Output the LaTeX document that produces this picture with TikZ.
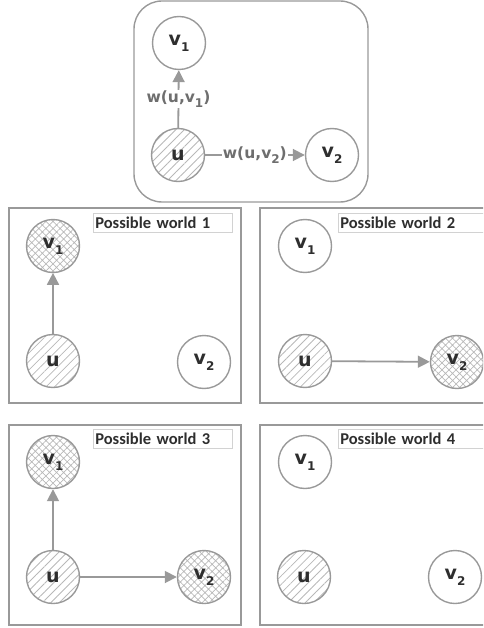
\documentclass[tikz,border=0pt]{standalone}
\usepackage{fontspec}
\setmainfont{DejaVu Sans}
\newfontfamily\pwfont{Carlito}
\usetikzlibrary{patterns.meta,arrows.meta}
\definecolor{lg}{HTML}{999999}
\definecolor{tx}{HTML}{2E2E2E}
\definecolor{hat}{HTML}{B8B8B8}
\definecolor{el}{HTML}{6E6E6E}
\newcommand{\vsub}[1]{v\raisebox{-0.55ex}{\fontsize{12}{12}\selectfont #1}}
\tikzset{
  x=1pt, y=-1pt,
  vertex/.style={circle, draw=lg, line width=1.4pt, minimum size=53pt, inner sep=0pt,
    font=\fontsize{19}{19}\selectfont\bfseries, text=tx},
  src/.style={vertex, pattern={Lines[angle=45,distance=6pt,line width=0.8pt]}, pattern color=hat},
  hit/.style={vertex, pattern={Hatch[angle=45,distance=5pt,line width=0.7pt]}, pattern color=hat},
  edge/.style={draw=lg, line width=1.8pt, -{Triangle[length=12pt,width=12pt]}},
  world/.style={draw=lg, line width=1.4pt},
  tag/.style={draw=gray!35, line width=0.7pt, anchor=north west, minimum height=19pt,
    inner xsep=2pt, inner ysep=0pt, text=tx, align=left,
    font=\pwfont\fontsize{16.5}{16.5}\selectfont\bfseries},
  elabel/.style={fill=white, text=el, font=\fontsize{15.5}{15.5}\selectfont\bfseries, inner sep=1pt}
}
\begin{document}
\begin{tikzpicture}
\useasboundingbox (0,0) rectangle (483,628);
\clip (0,0) rectangle (483,628);

% top box
\draw[world, rounded corners=28pt] (134,1) rectangle (368,202);
\node[vertex] (tv1) at (179,43) {\vsub{1}};
\node[src] (tu) at (178,155) {u};
\node[vertex] (tv2) at (332,155) {\vsub{2}};
\draw[edge] (tu) -- node[elabel] {w(u,\vsub{1})} (tv1);
\draw[edge] (tu) -- node[elabel] {w(u,\vsub{2})} (tv2);

% world 1
\draw[world] (9,208) rectangle (241,403);
\node[tag, text width=135pt] (t1) at (93,213) {Possible world 1};
\node[hit] (a1) at (53,246) {\vsub{1}};
\node[src] (au) at (53,361) {u};
\node[vertex] (a2) at (204,362) {\vsub{2}};
\draw[edge] (au) -- (a1);

% world 2
\draw[world] (260,208) rectangle (495,403);
\node[tag, text width=150pt] (t2) at (338,213) {Possible world 2};
\node[vertex] (b1) at (305,246) {\vsub{1}};
\node[src] (bu) at (305,361) {u};
\node[hit] (b2) at (457,362) {\vsub{2}};
\draw[edge] (bu) -- (b2);

% world 3
\draw[world] (9,425) rectangle (241,625);
\node[tag, text width=135pt] (t3) at (93,429) {Possible world 3};
\node[hit] (c1) at (53,462) {\vsub{1}};
\node[src] (cu) at (53,577) {u};
\node[hit] (c2) at (204,577) {\vsub{2}};
\draw[edge] (cu) -- (c1);
\draw[edge] (cu) -- (c2);

% world 4
\draw[world] (260,425) rectangle (495,625);
\node[tag, text width=150pt] (t4) at (338,429) {Possible world 4};
\node[vertex] (d1) at (305,462) {\vsub{1}};
\node[src] (du) at (304,577) {u};
\node[vertex] (d2) at (455,577) {\vsub{2}};
\end{tikzpicture}
\end{document}
